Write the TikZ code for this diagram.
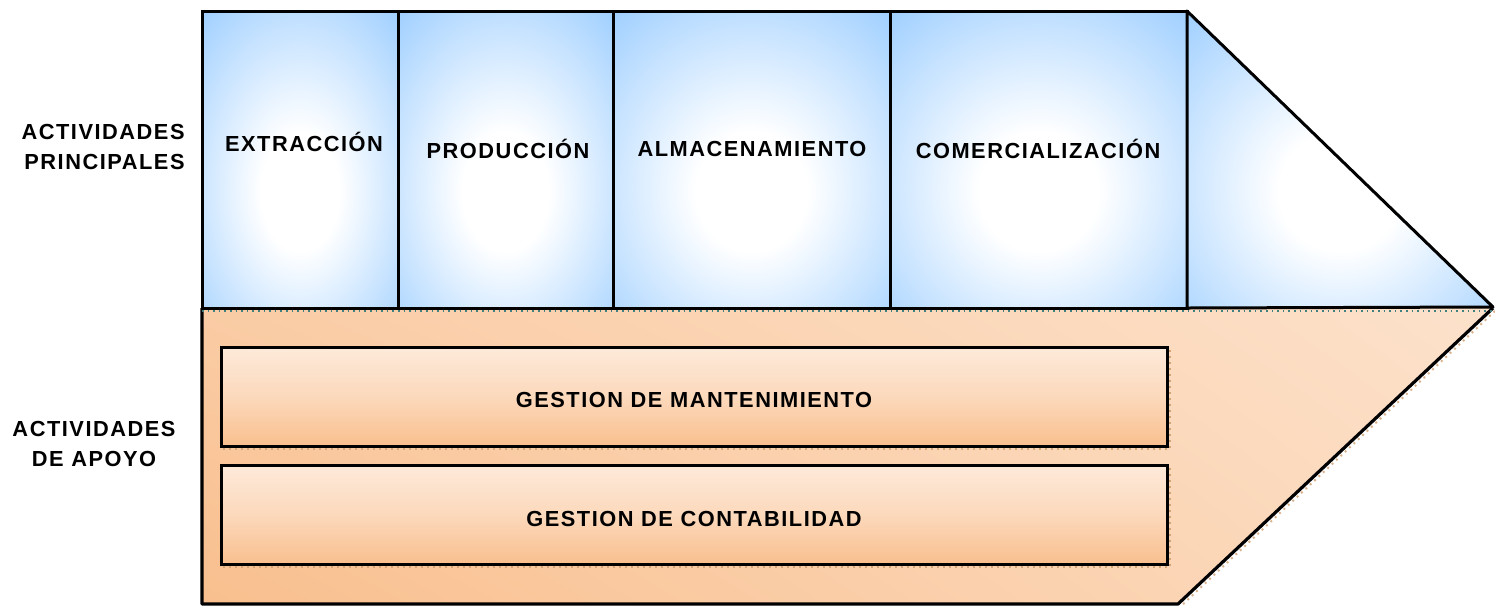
\documentclass[tikz,border=0pt]{standalone}
\usepackage{fontspec}
\usetikzlibrary{shadings}
\setmainfont{Liberation Sans}
\newfontfamily\lblfont[LetterSpace=7]{Liberation Sans}
\definecolor{bl}{RGB}{153,204,255}
\definecolor{pe}{RGB}{249,191,142}
\definecolor{pel}{RGB}{253,234,218}
\pgfdeclareradialshading{cellshade}{\pgfpoint{0bp}{-6bp}}{color(0bp)=(white); color(10bp)=(white); color(40bp)=(bl); color(100bp)=(bl)}
\tikzset{
  cell/.style={draw=black, line width=1.5pt, shading=cellshade},
  lbl/.style={font=\lblfont\bfseries\fontsize{10.9}{15}\selectfont, inner sep=0pt},
  supbox/.style={draw=black, line width=1.5pt, top color=pel, bottom color=pe, middle color=pel!60!pe},
  shadowline/.style={draw=brown!70!white, line width=1pt, dotted}
}
\begin{document}
\begin{tikzpicture}[x=0.5pt,y=-0.5pt]
\useasboundingbox (0,0) rectangle (1495,607);
% support area
\shade[upper left=pe!70!pel, upper right=pel!80!pe, lower left=pe, lower right=pel!65!pe]
  (202,308) -- (1493,308) -- (1178,604) -- (202,604) -- cycle;
\draw[draw=brown!60!white, line width=1pt, dotted] (1495,311) -- (1181,606);
\draw[line width=1.6pt, line join=round] (1493,308) -- (1178,604) -- (202,604) -- (202,308);
% inner support boxes
\draw[shadowline] (223,449) -- (1170,449) -- (1170,349);
\draw[supbox] (221,347) rectangle (1167,446);
\node[lbl] (mant) at (694,400) {GESTION DE MANTENIMIENTO};
\draw[shadowline] (223,567) -- (1170,567) -- (1170,468);
\draw[supbox] (221,465) rectangle (1167,564);
\node[lbl] (cont) at (694,519) {GESTION DE CONTABILIDAD};
% primary activities
\draw[cell] (202,11) rectangle (398,308);
\draw[cell] (398,11) rectangle (613,308);
\draw[cell] (613,11) rectangle (890,308);
\draw[cell] (890,11) rectangle (1187,308);
\draw[cell, line join=round] (1187,11) -- (1493,307) -- (1187,308) -- cycle;
\draw[draw=teal!50!gray, line width=0.8pt, dotted] (202,311) -- (1493,311);
\node[lbl] (extr) at (304,142) {EXTRACCIÓN};
\node[lbl] (prod) at (508,149) {PRODUCCIÓN};
\node[lbl] (alma) at (752,149) {ALMACENAMIENTO};
\node[lbl] (come) at (1038,149) {COMERCIALIZACIÓN};
% side labels
\node[lbl, align=right, anchor=east] (prin) at (185,147) {ACTIVIDADES\\PRINCIPALES};
\node[lbl, align=center] (apoyo) at (94,444) {ACTIVIDADES\\DE APOYO};
\end{tikzpicture}
\end{document}
